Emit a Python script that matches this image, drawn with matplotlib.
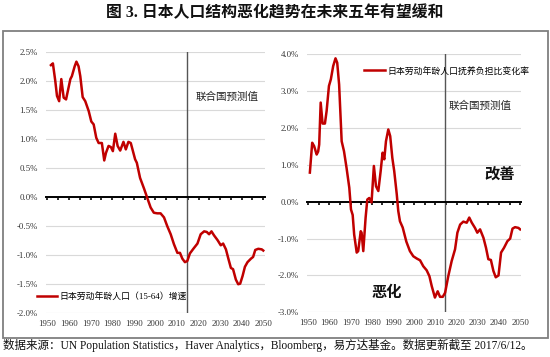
import numpy as np
import matplotlib
matplotlib.use('Agg')
import matplotlib.pyplot as plt
from matplotlib.patches import Rectangle
from matplotlib.ticker import FuncFormatter, MultipleLocator

plt.rcParams['font.family'] = ['Liberation Serif', 'Noto Sans CJK SC']
plt.rcParams['axes.unicode_minus'] = False

# labour force growth (15-64), % y/y
labour_years = [1951.6, 1952.5, 1953.6, 1954.4, 1955.4, 1956.4, 1957.5, 1958.6, 1960.6, 1961.3,
                1962.6, 1963.4, 1964.4, 1965.2, 1966.3, 1967.5, 1969.1, 1970.3, 1971.4, 1972.6,
                1973.7, 1975.2, 1976.3, 1977.1, 1978.3, 1979.4, 1980.3, 1981.4, 1982.5, 1983.7,
                1985.2, 1986.3, 1987.5, 1988.6, 1990.6, 1991.4, 1992.9, 1994.8, 1996.2, 1997.8,
                1999.3, 2000.9, 2002.4, 2004.0, 2005.5, 2007.1, 2008.6, 2010.2, 2011.4, 2012.5,
                2013.7, 2014.8, 2016.0, 2017.6, 2019.5, 2021.0, 2022.6, 2023.8, 2024.9, 2026.0,
                2027.2, 2028.8, 2030.3, 2031.4, 2032.7, 2033.9, 2035.0, 2036.0, 2037.3, 2038.4,
                2039.3, 2040.4, 2041.5, 2042.7, 2044.3, 2045.3, 2046.3, 2047.7, 2049.3, 2050.0]
labour_growth = [2.27, 2.30, 2.00, 1.74, 1.65, 2.03, 1.71, 1.68, 2.03, 2.08,
                 2.25, 2.33, 2.25, 2.08, 1.72, 1.65, 1.48, 1.30, 1.25, 1.02,
                 0.93, 0.93, 0.63, 0.76, 0.88, 0.86, 0.79, 1.09, 0.88, 0.80,
                 0.95, 0.82, 0.95, 0.93, 0.65, 0.59, 0.33, 0.14, -0.01, -0.18,
                 -0.27, -0.28, -0.28, -0.35, -0.50, -0.64, -0.81, -0.96, -0.96, -1.06,
                 -1.12, -1.10, -0.97, -0.89, -0.80, -0.64, -0.59, -0.60, -0.64, -0.59,
                 -0.66, -0.74, -0.83, -0.80, -0.90, -1.07, -1.22, -1.24, -1.42, -1.50,
                 -1.49, -1.36, -1.20, -1.12, -1.06, -1.03, -0.91, -0.89, -0.90, -0.92]

# change of dependency burden, %
burden_years = [1950.8, 1951.9, 1952.8, 1954.0, 1954.7, 1955.2, 1955.9, 1956.8, 1957.9, 1958.7,
                1959.8, 1960.7, 1961.8, 1962.9, 1963.7, 1964.6, 1965.8, 1966.9, 1968.1, 1969.4,
                1970.2, 1971.0, 1971.7, 1972.9, 1973.6, 1974.8, 1975.2, 1976.0, 1977.1, 1977.9,
                1978.8, 1979.9, 1981.0, 1982.0, 1983.1, 1984.2, 1985.1, 1985.9, 1986.7, 1987.8,
                1988.7, 1989.7, 1990.6, 1991.8, 1992.5, 1993.3, 1994.6, 1996.3, 1998.0, 1999.6,
                2001.2, 2002.8, 2004.3, 2005.9, 2007.2, 2008.3, 2009.8, 2011.1, 2012.2, 2013.5,
                2014.6, 2016.1, 2017.7, 2019.3, 2020.4, 2021.7, 2023.2, 2024.8, 2026.0, 2027.2,
                2028.7, 2029.8, 2031.1, 2032.7, 2033.9, 2035.0, 2036.2, 2037.4, 2038.5, 2039.8,
                2041.0, 2042.4, 2044.0, 2045.3, 2046.4, 2047.6, 2049.2, 2050.0]
burden_change = [0.79, 1.60, 1.51, 1.28, 1.36, 1.55, 2.69, 2.12, 2.12, 2.46,
                 3.14, 3.32, 3.68, 3.89, 3.77, 3.18, 1.64, 1.37, 0.92, 0.38,
                 -0.21, -0.36, -0.89, -1.38, -1.34, -0.80, -0.84, -1.34, -0.43, 0.06,
                 0.10, -0.02, 0.97, 0.42, 0.29, 0.83, 1.33, 1.15, 1.64, 1.96,
                 1.78, 1.19, 0.83, 0.20, -0.25, -0.53, -0.70, -1.08, -1.34, -1.48,
                 -1.54, -1.59, -1.75, -1.86, -2.02, -2.29, -2.60, -2.43, -2.58, -2.58,
                 -2.47, -2.02, -1.61, -1.29, -0.84, -0.62, -0.54, -0.57, -0.43, -0.57,
                 -0.71, -0.84, -0.75, -0.98, -1.25, -1.56, -1.58, -1.88, -2.05, -2.00,
                 -1.38, -1.25, -1.07, -1.00, -0.73, -0.69, -0.71, -0.75]

forecast_start = 2014.5
red = '#C00000'
txt = '#333333'

fig = plt.figure(figsize=(5.5, 3.57), dpi=100)

fig.text(0.5, 0.963, '图 3. 日本人口结构恶化趋势在未来五年有望缓和', ha='center', va='center',
         fontsize=11.4, fontweight='bold', color='#111111')
fig.text(0.006, 0.031, '数据来源：UN Population Statistics，Haver Analytics，Bloomberg，易方达基金。数据更新截至 2017/6/12。',
         ha='left', va='center', fontsize=8.3, color='#111111')
fig.patches.append(Rectangle((3 / 550, 1 - 338 / 357), 545 / 550, 307 / 357, transform=fig.transFigure,
                             fill=False, edgecolor='#7f7f7f', linewidth=1.3))


def style_axis(ax, ylo, yhi, step):
    ax.set_xlim(1949.4, 2050.6)
    ax.set_ylim(ylo, yhi)
    ax.yaxis.set_major_locator(MultipleLocator(step))
    ax.yaxis.set_major_formatter(FuncFormatter(lambda v, p: '{:.1f}%'.format(v)))
    ax.grid(axis='y', color='#d9d9d9', linewidth=0.8)
    ax.set_axisbelow(True)
    for s in ['top', 'right', 'left']:
        ax.spines[s].set_visible(False)
    ax.spines['bottom'].set_position(('data', 0))
    ax.spines['bottom'].set_linewidth(1.4)
    ax.xaxis.set_major_locator(MultipleLocator(5))
    ax.tick_params(axis='x', direction='out', length=2.5, width=1.2, labelbottom=False)
    ax.tick_params(axis='y', length=0, pad=6, labelsize=6.3, labelcolor=txt)
    sec = ax.secondary_xaxis('bottom')
    sec.set_xticks(range(1950, 2051, 10))
    sec.tick_params(length=0, pad=5, labelsize=6.3, labelcolor=txt)
    sec.spines['bottom'].set_visible(False)
    ax.axvline(forecast_start, color='#555555', linewidth=1.0, zorder=1)


ax1 = fig.add_axes([0.084, 0.1224, 0.397, 0.7326])
style_axis(ax1, -2.0, 2.5, 0.5)
ax1.plot(labour_years, labour_growth, color=red, linewidth=1.8, label='日本劳动年龄人口（15-64）增速', zorder=3)
ax1.text(2018.7, 1.72, '联合国预测值', fontsize=7.6, va='center', ha='left', color='#222222')
ax1.legend(loc='center left', bbox_to_anchor=(-0.06, 0.065), frameon=False, fontsize=6.4,
           handlelength=2.3, handletextpad=0.3, borderaxespad=0)

ax2 = fig.add_axes([0.558, 0.1252, 0.390, 0.7228])
style_axis(ax2, -3.0, 4.0, 1.0)
ax2.plot(burden_years, burden_change, color=red, linewidth=1.8, label='日本劳动年龄人口抚养负担比变化率', zorder=3)
ax2.text(2016.1, 2.59, '联合国预测值', fontsize=7.6, va='center', ha='left', color='#222222')
ax2.text(2040.5, 0.70, '改善', fontsize=11, fontweight='bold', ha='center', va='center', color='#111111')
ax2.text(1987.2, -2.46, '恶化', fontsize=11, fontweight='bold', ha='center', va='center', color='#111111')
ax2.legend(loc='center left', bbox_to_anchor=(0.25, 0.935), frameon=False, fontsize=6.4,
           handlelength=2.3, handletextpad=0.3, borderaxespad=0)

fig.savefig('out.png', dpi=100)
